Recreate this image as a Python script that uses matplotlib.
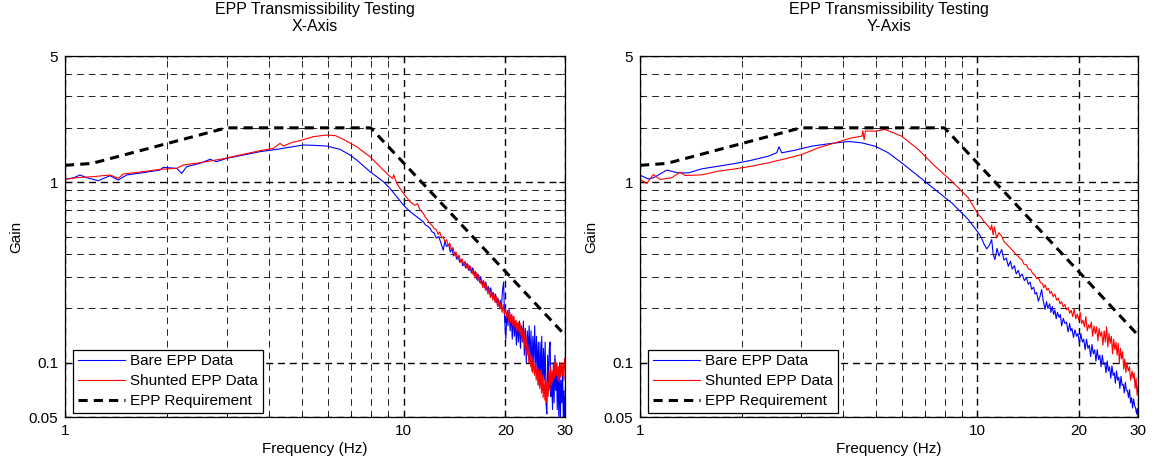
"""EPP transmissibility, X and Y axes (bare vs shunted vs requirement)."""

import matplotlib
matplotlib.use("Agg")
import matplotlib.pyplot as plt
from matplotlib.ticker import FixedLocator, FixedFormatter, NullFormatter

plt.rcParams["font.family"] = ["Liberation Sans", "DejaVu Sans"]
plt.rcParams["font.size"] = 11

# requirement envelope (same on both axes)
req_f = [1.0, 1.2, 3.0, 8.0, 30.0]
req_g = [1.24, 1.27, 2.0, 2.0, 0.142]

# ---- X-axis test ----
x_bare_f = [1.0, 1.058, 1.107, 1.159, 1.254, 1.358, 1.437, 1.521, 1.704, 1.909,
            1.952, 2.138, 2.211, 2.288, 2.505, 2.682, 2.806, 3.004, 3.364, 3.768,
            4.221, 4.727, 5.06, 5.415, 5.93, 6.494, 6.95, 7.27, 7.96, 8.72,
            9.12, 9.55, 9.99, 10.45, 10.94,
            11.44, 11.6, 11.8, 11.97, 12.15, 12.3, 12.5, 12.7, 12.9, 13.1,
            13.25, 13.4, 13.6, 13.75, 13.9, 14.05, 14.2, 14.35, 14.5, 14.65,
            14.8, 14.95, 15.1, 15.25, 15.4, 15.55, 15.7, 15.85, 16.0, 16.15,
            16.3, 16.45, 16.6, 16.75, 16.9, 17.05, 17.2, 17.35, 17.5, 17.65,
            17.8, 17.95, 18.1, 18.25, 18.4, 18.55, 18.7, 18.85, 19.0, 19.15,
            19.3, 19.45, 19.6, 19.75, 19.9, 20.05, 20.2, 20.35, 20.5, 20.65,
            20.8, 20.95, 21.1, 21.25, 21.4, 21.55, 21.7, 21.85, 22.0, 22.15,
            22.3, 22.45, 22.6, 22.75, 22.9, 23.05, 23.2, 23.35, 23.5, 23.65,
            23.8, 23.95, 24.1, 24.25, 24.4, 24.55, 24.7, 24.85, 25.0, 25.15,
            25.3, 25.45, 25.6, 25.75, 25.9, 26.05, 26.2, 26.35, 26.5, 26.65,
            26.8, 26.95, 27.1, 27.25, 27.4, 27.55, 27.7, 27.85, 28.0, 28.15,
            28.3, 28.45, 28.6, 28.75, 28.9, 29.05, 29.2, 29.35, 29.5, 29.65,
            29.8, 29.9, 30.0]
x_bare_g = [1.04, 1.055, 1.096, 1.059, 1.019, 1.086, 1.028, 1.096, 1.129, 1.168,
            1.208, 1.193, 1.119, 1.219, 1.272, 1.338, 1.299, 1.355, 1.414, 1.476,
            1.52, 1.573, 1.607, 1.60, 1.586, 1.52, 1.414, 1.327, 1.144, 1.006,
            0.924, 0.831, 0.747, 0.687, 0.644,
            0.604, 0.58, 0.57, 0.555, 0.53, 0.525, 0.49, 0.50, 0.46, 0.42,
            0.47, 0.44, 0.45, 0.41, 0.43, 0.39, 0.41, 0.375, 0.39, 0.36,
            0.375, 0.345, 0.36, 0.335, 0.355, 0.325, 0.345, 0.315, 0.335, 0.305,
            0.32, 0.29, 0.31, 0.28, 0.30, 0.27, 0.285, 0.26, 0.28, 0.25,
            0.265, 0.24, 0.26, 0.232, 0.245, 0.222, 0.24, 0.215, 0.228, 0.205,
            0.222, 0.20, 0.25, 0.28, 0.17, 0.135, 0.19, 0.16, 0.20, 0.15,
            0.185, 0.135, 0.18, 0.14, 0.17, 0.125, 0.165, 0.13, 0.17, 0.12,
            0.16, 0.13, 0.17, 0.11, 0.155, 0.10, 0.15, 0.115, 0.16, 0.10,
            0.15, 0.09, 0.14, 0.10, 0.16, 0.09, 0.14, 0.085, 0.13, 0.075,
            0.13, 0.08, 0.14, 0.07, 0.12, 0.08, 0.13, 0.06, 0.052, 0.11,
            0.07, 0.12, 0.13, 0.065, 0.08, 0.055, 0.10, 0.06, 0.11, 0.07,
            0.095, 0.055, 0.09, 0.05, 0.10, 0.048, 0.08, 0.06, 0.09, 0.048,
            0.07, 0.048, 0.065]

x_shunt_f = [1.0, 1.083, 1.212, 1.358, 1.437, 1.487, 1.704, 1.909, 2.138, 2.237,
             2.505, 2.871, 3.289, 3.768, 4.126, 4.317, 4.416, 4.727, 4.946, 5.415,
             5.93, 6.3, 6.64, 7.27, 7.96, 8.72, 9.12, 9.3, 9.35, 9.55,
             9.99, 10.45, 10.8, 11.0, 11.2,
             11.44, 11.6, 11.8, 11.97, 12.15, 12.3, 12.5, 12.65, 12.8, 12.95,
             13.1, 13.25, 13.4, 13.55, 13.7, 13.85, 14.0, 14.15, 14.3, 14.45,
             14.6, 14.75, 14.9, 15.05, 15.2, 15.35, 15.5, 15.65, 15.8, 15.95,
             16.1, 16.25, 16.4, 16.55, 16.7, 16.85, 17.0, 17.15, 17.3, 17.45,
             17.6, 17.75, 17.9, 18.05, 18.2, 18.35, 18.5, 18.65, 18.8, 18.95,
             19.1, 19.25, 19.4, 19.55, 19.7, 19.85, 20.0, 20.15, 20.3, 20.45,
             20.6, 20.75, 20.9, 21.05, 21.2, 21.35, 21.5, 21.65, 21.8, 21.95,
             22.1, 22.25, 22.4, 22.55, 22.7, 22.85, 23.0, 23.15, 23.3, 23.45,
             23.6, 23.75, 23.9, 24.05, 24.2, 24.35, 24.5, 24.65, 24.8, 24.95,
             25.1, 25.25, 25.4, 25.55, 25.7, 25.85, 26.0, 26.15, 26.3, 26.45,
             26.6, 26.75, 26.9, 27.05, 27.2, 27.35, 27.5, 27.65, 27.8, 27.95,
             28.1, 28.25, 28.4, 28.55, 28.7, 28.85, 29.0, 29.15, 29.3, 29.45,
             29.6, 29.75, 29.9, 30.0]
x_shunt_g = [1.037, 1.059, 1.073, 1.096, 1.05, 1.11, 1.144, 1.178, 1.193, 1.245,
             1.282, 1.338, 1.414, 1.495, 1.539, 1.641, 1.586, 1.669, 1.698, 1.787,
             1.825, 1.81, 1.727, 1.573, 1.384, 1.168, 1.073, 1.05, 1.10, 0.985,
             0.867, 0.78, 0.745, 0.76, 0.70,
             0.672, 0.64, 0.615, 0.591, 0.575, 0.555, 0.545, 0.515, 0.53, 0.49,
             0.50, 0.465, 0.48, 0.445, 0.46, 0.42, 0.435, 0.395, 0.41, 0.375,
             0.395, 0.36, 0.375, 0.345, 0.365, 0.335, 0.35, 0.325, 0.34, 0.31,
             0.33, 0.295, 0.315, 0.285, 0.305, 0.275, 0.29, 0.26, 0.28, 0.252,
             0.27, 0.24, 0.258, 0.23, 0.25, 0.222, 0.24, 0.215, 0.232, 0.205,
             0.222, 0.198, 0.215, 0.19, 0.21, 0.185, 0.20, 0.178, 0.195, 0.17,
             0.19, 0.165, 0.185, 0.16, 0.18, 0.155, 0.172, 0.15, 0.168, 0.145,
             0.165, 0.14, 0.155, 0.13, 0.15, 0.12, 0.14, 0.11, 0.125, 0.10,
             0.115, 0.095, 0.11, 0.088, 0.105, 0.085, 0.10, 0.08, 0.095, 0.075,
             0.092, 0.072, 0.09, 0.068, 0.085, 0.064, 0.08, 0.062, 0.085, 0.06,
             0.078, 0.065, 0.09, 0.07, 0.095, 0.075, 0.09, 0.078, 0.10, 0.082,
             0.105, 0.085, 0.10, 0.08, 0.095, 0.078, 0.10, 0.083, 0.10, 0.085,
             0.098, 0.08, 0.105, 0.095]

# ---- Y-axis test ----
y_bare_f = [1.0, 1.058, 1.095, 1.2, 1.299, 1.391, 1.523, 1.707, 1.913, 2.144,
            2.402, 2.543, 2.584, 2.631, 2.882, 3.229, 3.618, 4.148, 4.543, 4.977,
            5.451, 5.97, 6.69, 7.496, 8.40, 9.41,
            10.08, 10.3, 10.5, 10.67, 10.85, 11.04, 11.15, 11.29, 11.45, 11.6,
            11.82, 12.0, 12.2, 12.37, 12.55, 12.7, 12.9, 13.05, 13.24, 13.4,
            13.6, 13.8, 14.0, 14.18, 14.35, 14.5, 14.7, 14.85, 15.0, 15.18,
            15.35, 15.53, 15.7, 15.89, 16.05, 16.2, 16.4, 16.55, 16.7, 16.85,
            17.0, 17.15, 17.3, 17.5, 17.65, 17.8, 18.0, 18.2, 18.4, 18.6,
            18.8, 18.95, 19.1, 19.3, 19.5, 19.7, 19.9, 20.1, 20.3, 20.5,
            20.7, 20.9, 21.1, 21.3, 21.5, 21.7, 21.9, 22.1, 22.3, 22.5,
            22.7, 22.9, 23.1, 23.3, 23.5, 23.7, 23.9, 24.1, 24.3, 24.5,
            24.7, 24.9, 25.1, 25.3, 25.5, 25.7, 25.9, 26.1, 26.3, 26.5,
            26.7, 26.9, 27.1, 27.3, 27.5, 27.7, 27.9, 28.1, 28.3, 28.5,
            28.7, 28.9, 29.1, 29.3, 29.5, 29.7, 29.85, 30.0]
y_bare_g = [1.093, 1.043, 1.057, 1.166, 1.126, 1.126, 1.185, 1.226, 1.269, 1.324,
            1.393, 1.454, 1.57, 1.454, 1.504, 1.583, 1.631, 1.68, 1.652, 1.583,
            1.454, 1.28, 1.08, 0.911, 0.768, 0.621,
            0.524, 0.49, 0.45, 0.427, 0.445, 0.481, 0.40, 0.373, 0.43, 0.39,
            0.424, 0.37, 0.38, 0.342, 0.365, 0.33, 0.345, 0.31, 0.325, 0.30,
            0.31, 0.285, 0.295, 0.272, 0.28, 0.255, 0.262, 0.24, 0.245, 0.219,
            0.232, 0.254, 0.22, 0.197, 0.218, 0.20, 0.212, 0.19, 0.205, 0.185,
            0.196, 0.175, 0.19, 0.178, 0.185, 0.16, 0.176, 0.165, 0.168, 0.148,
            0.165, 0.15, 0.155, 0.138, 0.152, 0.14, 0.145, 0.128, 0.145, 0.13,
            0.135, 0.118, 0.135, 0.12, 0.125, 0.108, 0.126, 0.112, 0.118, 0.102,
            0.118, 0.104, 0.11, 0.095, 0.11, 0.098, 0.10, 0.088, 0.102, 0.09,
            0.095, 0.082, 0.096, 0.085, 0.088, 0.077, 0.09, 0.08, 0.083, 0.072,
            0.084, 0.075, 0.076, 0.068, 0.078, 0.07, 0.07, 0.064, 0.071, 0.06,
            0.064, 0.056, 0.063, 0.058, 0.056, 0.052, 0.056, 0.05]

y_shunt_f = [1.0, 1.047, 1.095, 1.146, 1.241, 1.314, 1.36, 1.523, 1.707, 1.913,
             2.144, 2.402, 2.692, 3.016, 3.38, 3.787, 4.243, 4.55, 4.58, 4.62,
             4.66, 4.977, 5.33, 5.97, 6.69, 7.496, 8.40, 9.41,
             10.08, 10.25, 10.4, 10.6, 10.79, 10.95, 11.04, 11.15, 11.25, 11.42,
             11.6, 11.82, 12.0, 12.2, 12.4, 12.65, 12.85, 13.0, 13.2, 13.4,
             13.55, 13.75, 14.0, 14.2, 14.4, 14.6, 14.84, 15.0, 15.2, 15.4,
             15.6, 15.75, 15.9, 16.1, 16.26, 16.45, 16.6, 16.8, 17.0, 17.2,
             17.4, 17.6, 17.8, 18.0, 18.2, 18.4, 18.63, 18.8, 19.0, 19.2,
             19.4, 19.6, 19.8, 20.0, 20.2, 20.41, 20.6, 20.8, 21.0, 21.2,
             21.4, 21.6, 21.8, 22.0, 22.2, 22.4, 22.6, 22.8, 23.0, 23.2,
             23.4, 23.6, 23.8, 24.0, 24.2, 24.4, 24.6, 24.8, 25.0, 25.2,
             25.4, 25.6, 25.8, 26.0, 26.2, 26.4, 26.6, 26.8, 27.0, 27.2,
             27.4, 27.6, 27.8, 28.07, 28.3, 28.5, 28.8, 29.0, 29.2, 29.4,
             29.6, 29.8, 30.0]
y_shunt_g = [1.035, 0.983, 1.103, 1.035, 1.057, 1.136, 1.089, 1.098, 1.151, 1.185,
             1.226, 1.28, 1.347, 1.423, 1.55, 1.652, 1.76, 1.798, 1.93, 1.72,
             1.92, 1.917, 1.958, 1.798, 1.517, 1.226, 1.013, 0.819,
             0.662, 0.64, 0.615, 0.59, 0.57, 0.545, 0.58, 0.51, 0.565, 0.491,
             0.525, 0.502, 0.47, 0.455, 0.44, 0.424, 0.41, 0.40, 0.39, 0.378,
             0.373, 0.352, 0.348, 0.33, 0.328, 0.312, 0.305, 0.292, 0.295, 0.278,
             0.275, 0.26, 0.27, 0.252, 0.258, 0.242, 0.248, 0.232, 0.24, 0.222,
             0.228, 0.212, 0.218, 0.204, 0.21, 0.196, 0.202, 0.188, 0.195, 0.18,
             0.198, 0.175, 0.186, 0.172, 0.19, 0.165, 0.172, 0.158, 0.18, 0.15,
             0.162, 0.155, 0.168, 0.14, 0.16, 0.145, 0.158, 0.132, 0.155, 0.14,
             0.148, 0.125, 0.15, 0.13, 0.158, 0.122, 0.145, 0.128, 0.14, 0.112,
             0.135, 0.118, 0.13, 0.11, 0.128, 0.10, 0.12, 0.105, 0.115, 0.092,
             0.105, 0.088, 0.10, 0.09, 0.095, 0.08, 0.09, 0.082, 0.088, 0.072,
             0.082, 0.066, 0.075]

titles = ["EPP Transmissibility Testing\nX-Axis", "EPP Transmissibility Testing\nY-Axis"]
x_major = [1, 10, 20, 30]
x_minor = [2, 3, 4, 5, 6, 7, 8, 9]
y_major = [0.05, 0.1, 1, 5]
y_minor = [0.2, 0.3, 0.4, 0.5, 0.6, 0.7, 0.8, 0.9, 2, 3, 4]


def style_axes(ax, title):
    ax.set_xscale("log")
    ax.set_yscale("log")
    ax.set_xlim(1, 30)
    ax.set_ylim(0.05, 5)
    ax.xaxis.set_major_locator(FixedLocator(x_major))
    ax.xaxis.set_major_formatter(FixedFormatter([str(v) for v in x_major]))
    ax.xaxis.set_minor_locator(FixedLocator(x_minor))
    ax.xaxis.set_minor_formatter(NullFormatter())
    ax.yaxis.set_major_locator(FixedLocator(y_major))
    ax.yaxis.set_major_formatter(FixedFormatter(["0.05", "0.1", "1", "5"]))
    ax.yaxis.set_minor_locator(FixedLocator(y_minor))
    ax.yaxis.set_minor_formatter(NullFormatter())
    ax.tick_params(which="both", direction="in", top=True, right=True,
                   labelsize=11, pad=5)
    ax.tick_params(which="major", length=4)
    ax.tick_params(which="minor", length=2)
    ax.grid(True, which="major", color="black", linestyle=(0, (5, 3.5)),
            linewidth=1.0)
    ax.grid(True, which="minor", color="black", linestyle=(0, (8, 6)),
            linewidth=0.6)
    ax.set_axisbelow(True)
    for sp in ax.spines.values():
        sp.set_linewidth(0.9)
    ax.set_title(title, fontsize=11.5, pad=18, linespacing=1.15)
    ax.set_xlabel("Frequency (Hz)", labelpad=3)
    ax.set_ylabel("Gain", labelpad=4)


fig = plt.figure(figsize=(11.52, 4.61), dpi=100)
ax1 = fig.add_axes([0.0564, 0.0954, 0.4341, 0.7831])
ax2 = fig.add_axes([0.5556, 0.0954, 0.4323, 0.7831])

for ax, bf, bg, sf, sg, title in [
    (ax1, x_bare_f, x_bare_g, x_shunt_f, x_shunt_g, titles[0]),
    (ax2, y_bare_f, y_bare_g, y_shunt_f, y_shunt_g, titles[1]),
]:
    ax.plot(bf, bg, color="#0000ff", linewidth=0.8, label="Bare EPP Data")
    ax.plot(sf, sg, color="#ff0000", linewidth=0.8, label="Shunted EPP Data")
    ax.plot(req_f, req_g, color="black", linewidth=2.2, linestyle=(0, (3, 2)),
            label="EPP Requirement")
    style_axes(ax, title)
    leg = ax.legend(loc="lower left", bbox_to_anchor=(0.016, 0.011),
                    borderaxespad=0, fontsize=11, frameon=True, fancybox=False,
                    edgecolor="black", framealpha=1, handlelength=3.1,
                    handletextpad=0.35, labelspacing=0.4, borderpad=0.3)
    leg.get_frame().set_linewidth(0.9)

fig.savefig("out.png", dpi=100)
